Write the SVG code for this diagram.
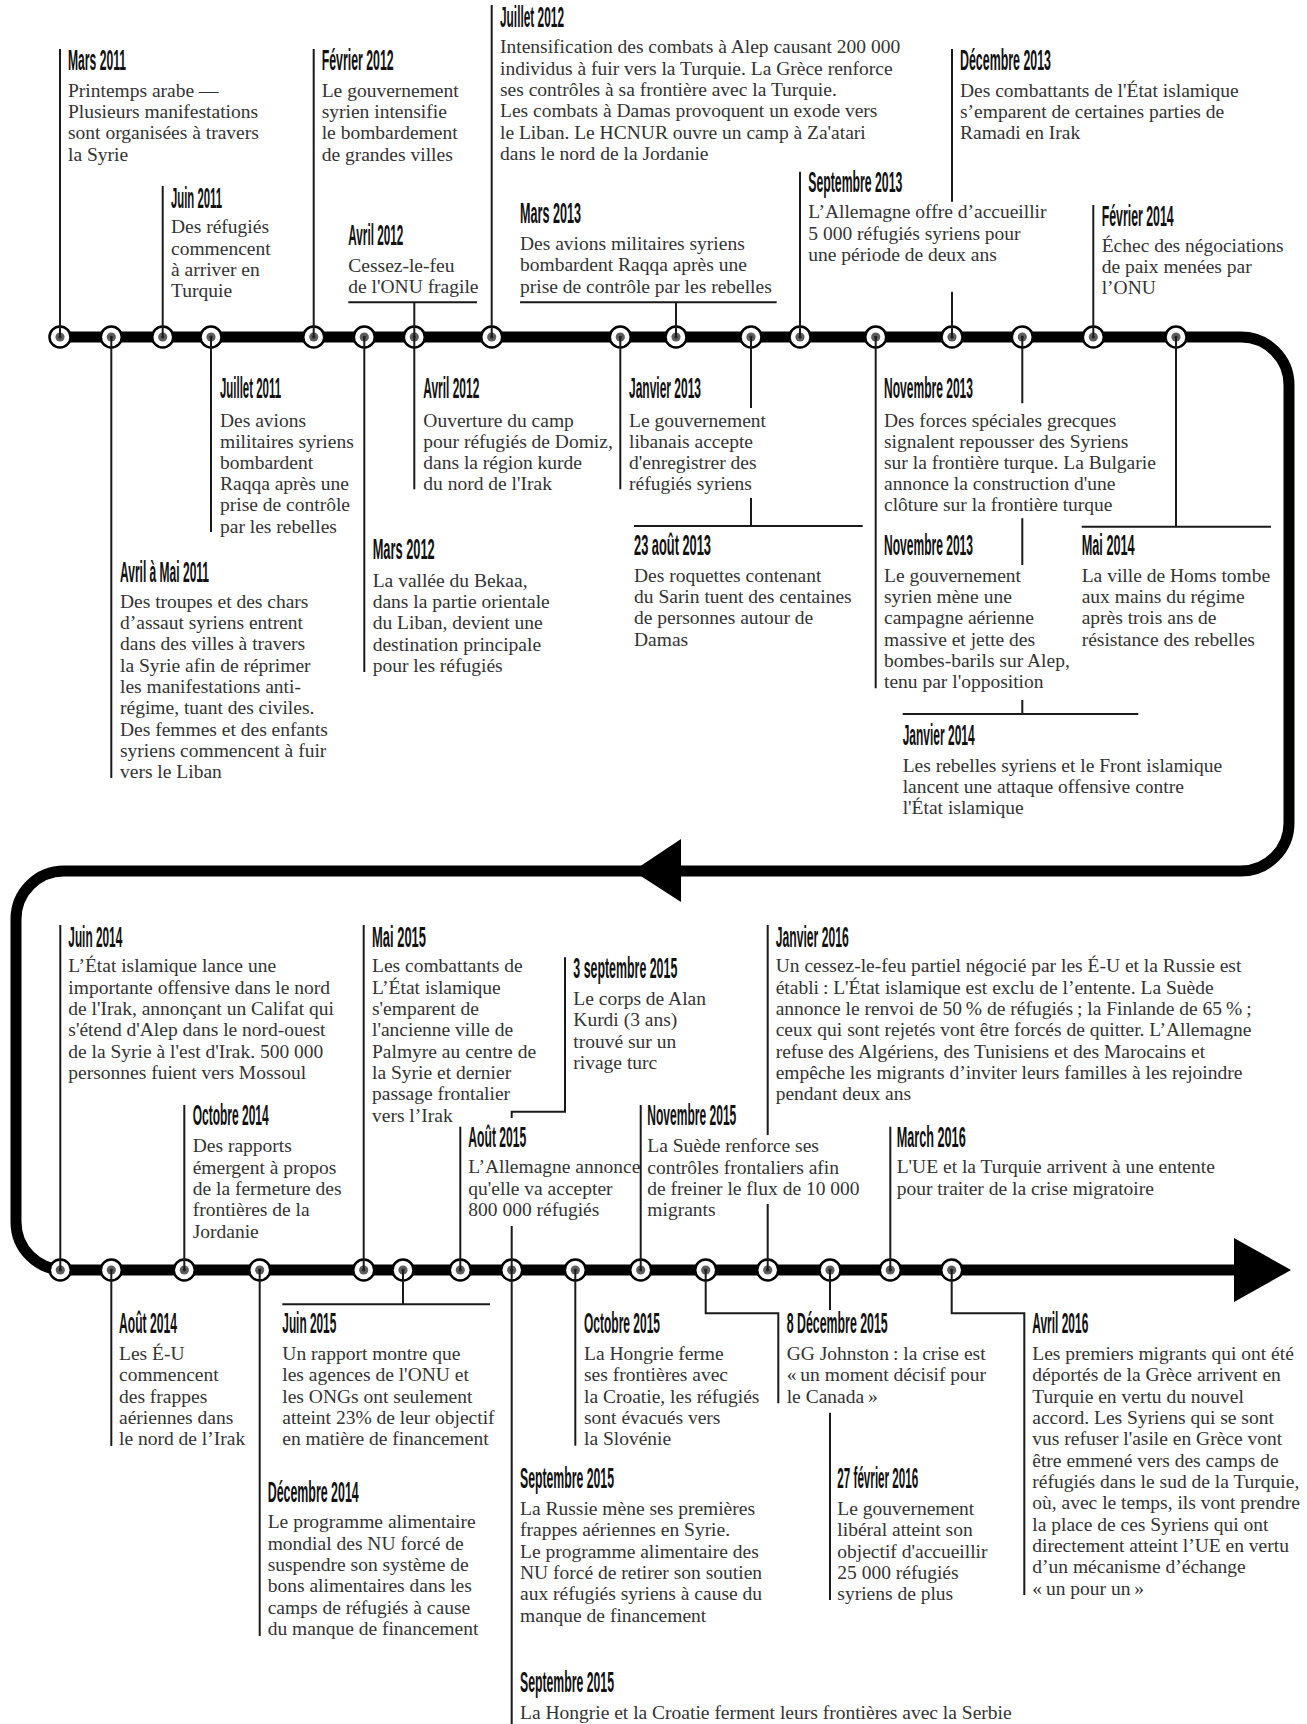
<svg xmlns="http://www.w3.org/2000/svg" xmlns:xlink="http://www.w3.org/1999/xlink" width="1307" height="1724" viewBox="0 0 1307 1724">
<style>
.h{font-family:"Liberation Sans Narrow","Liberation Sans",Arial,sans-serif;font-weight:bold;font-size:29px;fill:#111}
.b{font-family:"Liberation Serif","Times New Roman",serif;font-size:19.5px;fill:#333}
.c{fill:none;stroke:#1a1a1a;stroke-width:2}
.track{fill:none;stroke:#000;stroke-width:11;stroke-linejoin:round}
</style>
<defs>
<g id="mk"><circle r="10.5" fill="#fff" stroke="#000" stroke-width="2.5"/><circle r="4.6" fill="#5e5e5e"/><circle r="1.6" fill="#222"/></g>
</defs>
<rect width="1307" height="1724" fill="#fff"/>
<g id="track">
<path class="track" d="M60,337 H1241 A48,48 0 0 1 1289,385 V823 A48,48 0 0 1 1241,871 H64 A48,48 0 0 0 16,919 V1222 A48,48 0 0 0 64,1270 H1240"/>
<polygon points="633,871 681,839 681,902" fill="#000"/>
<polygon points="1291,1270 1234,1238 1234,1302" fill="#000"/>
</g>

<g id="e-mars-2011"><use href="#mk" x="60" y="337"/><text class="h" x="68" y="70" textLength="58" lengthAdjust="spacingAndGlyphs">Mars 2011</text><text class="b" y="96.7"><tspan x="68">Printemps arabe —</tspan><tspan x="68" dy="21.33">Plusieurs manifestations</tspan><tspan x="68" dy="21.33">sont organisées à travers</tspan><tspan x="68" dy="21.33">la Syrie</tspan></text></g>

<g id="e-juin-2011"><use href="#mk" x="162.7" y="337"/><text class="h" x="171" y="207.7" textLength="51" lengthAdjust="spacingAndGlyphs">Juin 2011</text><text class="b" y="233.3"><tspan x="171">Des réfugiés</tspan><tspan x="171" dy="21.33">commencent</tspan><tspan x="171" dy="21.33">à arriver en</tspan><tspan x="171" dy="21.33">Turquie</tspan></text></g>

<g id="e-fevrier-2012"><use href="#mk" x="313.7" y="337"/><text class="h" x="321.7" y="70" textLength="72" lengthAdjust="spacingAndGlyphs">Février 2012</text><text class="b" y="96.7"><tspan x="321.7">Le gouvernement</tspan><tspan x="321.7" dy="21.33">syrien intensifie</tspan><tspan x="321.7" dy="21.33">le bombardement</tspan><tspan x="321.7" dy="21.33">de grandes villes</tspan></text></g>

<g id="e-avril-2012-a"><use href="#mk" x="414.3" y="337"/><text class="h" x="348.3" y="245" textLength="55" lengthAdjust="spacingAndGlyphs">Avril 2012</text><text class="b" y="271.7"><tspan x="348.3">Cessez-le-feu</tspan><tspan x="348.3" dy="21.33">de l'ONU fragile</tspan></text></g>

<g id="e-juillet-2012"><use href="#mk" x="491.7" y="337"/><text class="h" x="500" y="26.7" textLength="64" lengthAdjust="spacingAndGlyphs">Juillet 2012</text><text class="b" y="53.3"><tspan x="500">Intensification des combats à Alep causant 200 000</tspan><tspan x="500" dy="21.33">individus à fuir vers la Turquie. La Grèce renforce</tspan><tspan x="500" dy="21.33">ses contrôles à sa frontière avec la Turquie.</tspan><tspan x="500" dy="21.33">Les combats à Damas provoquent un exode vers</tspan><tspan x="500" dy="21.33">le Liban. Le HCNUR ouvre un camp à Za'atari</tspan><tspan x="500" dy="21.33">dans le nord de la Jordanie</tspan></text></g>

<g id="e-mars-2013"><use href="#mk" x="676" y="337"/><text class="h" x="520" y="222.7" textLength="61" lengthAdjust="spacingAndGlyphs">Mars 2013</text><text class="b" y="250"><tspan x="520">Des avions militaires syriens</tspan><tspan x="520" dy="21.33">bombardent Raqqa après une</tspan><tspan x="520" dy="21.33">prise de contrôle par les rebelles</tspan></text></g>

<g id="e-septembre-2013"><use href="#mk" x="800" y="337"/><text class="h" x="808.3" y="191.7" textLength="94" lengthAdjust="spacingAndGlyphs">Septembre 2013</text><text class="b" y="218.3"><tspan x="808.3">L’Allemagne offre d’accueillir</tspan><tspan x="808.3" dy="21.33">5 000 réfugiés syriens pour</tspan><tspan x="808.3" dy="21.33">une période de deux ans</tspan></text></g>

<g id="e-decembre-2013"><use href="#mk" x="952" y="337"/><text class="h" x="960" y="70" textLength="91" lengthAdjust="spacingAndGlyphs">Décembre 2013</text><text class="b" y="96.7"><tspan x="960">Des combattants de l'État islamique</tspan><tspan x="960" dy="21.33">s’emparent de certaines parties de</tspan><tspan x="960" dy="21.33">Ramadi en Irak</tspan></text></g>

<g id="e-fevrier-2014"><use href="#mk" x="1093.3" y="337"/><text class="h" x="1101.7" y="226" textLength="72" lengthAdjust="spacingAndGlyphs">Février 2014</text><text class="b" y="251.7"><tspan x="1101.7">Échec des négociations</tspan><tspan x="1101.7" dy="21.33">de paix menées par</tspan><tspan x="1101.7" dy="21.33">l’ONU</tspan></text></g>

<g id="e-avril-mai-2011"><use href="#mk" x="111.3" y="337"/><text class="h" x="120" y="581.7" textLength="89" lengthAdjust="spacingAndGlyphs">Avril à Mai 2011</text><text class="b" y="607.7"><tspan x="120">Des troupes et des chars</tspan><tspan x="120" dy="21.33">d’assaut syriens entrent</tspan><tspan x="120" dy="21.33">dans des villes à travers</tspan><tspan x="120" dy="21.33">la Syrie afin de réprimer</tspan><tspan x="120" dy="21.33">les manifestations anti-</tspan><tspan x="120" dy="21.33">régime, tuant des civiles.</tspan><tspan x="120" dy="21.33">Des femmes et des enfants</tspan><tspan x="120" dy="21.33">syriens commencent à fuir</tspan><tspan x="120" dy="21.33">vers le Liban</tspan></text></g>

<g id="e-juillet-2011"><use href="#mk" x="211" y="337"/><text class="h" x="220" y="398.3" textLength="61" lengthAdjust="spacingAndGlyphs">Juillet 2011</text><text class="b" y="426.5"><tspan x="220">Des avions</tspan><tspan x="220" dy="21.2">militaires syriens</tspan><tspan x="220" dy="21.2">bombardent</tspan><tspan x="220" dy="21.2">Raqqa après une</tspan><tspan x="220" dy="21.2">prise de contrôle</tspan><tspan x="220" dy="21.2">par les rebelles</tspan></text></g>

<g id="e-mars-2012"><use href="#mk" x="364.3" y="337"/><text class="h" x="372.7" y="559.3" textLength="62" lengthAdjust="spacingAndGlyphs">Mars 2012</text><text class="b" y="586.7"><tspan x="372.7">La vallée du Bekaa,</tspan><tspan x="372.7" dy="21.33">dans la partie orientale</tspan><tspan x="372.7" dy="21.33">du Liban, devient une</tspan><tspan x="372.7" dy="21.33">destination principale</tspan><tspan x="372.7" dy="21.33">pour les réfugiés</tspan></text></g>

<g id="e-avril-2012-b"><text class="h" x="423.3" y="398.3" textLength="56" lengthAdjust="spacingAndGlyphs">Avril 2012</text><text class="b" y="426.5"><tspan x="423.3">Ouverture du camp</tspan><tspan x="423.3" dy="21.2">pour réfugiés de Domiz,</tspan><tspan x="423.3" dy="21.2">dans la région kurde</tspan><tspan x="423.3" dy="21.2">du nord de l'Irak</tspan></text></g>

<g id="e-janvier-2013"><use href="#mk" x="620.3" y="337"/><text class="h" x="629" y="398.3" textLength="72" lengthAdjust="spacingAndGlyphs">Janvier 2013</text><text class="b" y="426.5"><tspan x="629">Le gouvernement</tspan><tspan x="629" dy="21.2">libanais accepte</tspan><tspan x="629" dy="21.2">d'enregistrer des</tspan><tspan x="629" dy="21.2">réfugiés syriens</tspan></text></g>

<g id="e-23-aout-2013"><use href="#mk" x="751" y="337"/><text class="h" x="634" y="555" textLength="77" lengthAdjust="spacingAndGlyphs">23 août 2013</text><text class="b" y="581.7"><tspan x="634">Des roquettes contenant</tspan><tspan x="634" dy="21.33">du Sarin tuent des centaines</tspan><tspan x="634" dy="21.33">de personnes autour de</tspan><tspan x="634" dy="21.33">Damas</tspan></text></g>

<g id="e-novembre-2013-a"><use href="#mk" x="875.7" y="337"/><text class="h" x="884" y="398.3" textLength="89" lengthAdjust="spacingAndGlyphs">Novembre 2013</text><text class="b" y="426.5"><tspan x="884">Des forces spéciales grecques</tspan><tspan x="884" dy="21.2">signalent repousser des Syriens</tspan><tspan x="884" dy="21.2">sur la frontière turque. La Bulgarie</tspan><tspan x="884" dy="21.2">annonce la construction d'une</tspan><tspan x="884" dy="21.2">clôture sur la frontière turque</tspan></text></g>

<g id="e-novembre-2013-b"><text class="h" x="884" y="555" textLength="89" lengthAdjust="spacingAndGlyphs">Novembre 2013</text><text class="b" y="581.7"><tspan x="884">Le gouvernement</tspan><tspan x="884" dy="21.33">syrien mène une</tspan><tspan x="884" dy="21.33">campagne aérienne</tspan><tspan x="884" dy="21.33">massive et jette des</tspan><tspan x="884" dy="21.33">bombes-barils sur Alep,</tspan><tspan x="884" dy="21.33">tenu par l'opposition</tspan></text></g>

<g id="e-janvier-2014"><use href="#mk" x="1022.3" y="337"/><text class="h" x="902.7" y="745" textLength="72" lengthAdjust="spacingAndGlyphs">Janvier 2014</text><text class="b" y="771.7"><tspan x="902.7">Les rebelles syriens et le Front islamique</tspan><tspan x="902.7" dy="21.33">lancent une attaque offensive contre</tspan><tspan x="902.7" dy="21.33">l'État islamique</tspan></text></g>

<g id="e-mai-2014"><use href="#mk" x="1176" y="337"/><text class="h" x="1081.7" y="555" textLength="53" lengthAdjust="spacingAndGlyphs">Mai 2014</text><text class="b" y="581.7"><tspan x="1081.7">La ville de Homs tombe</tspan><tspan x="1081.7" dy="21.33">aux mains du régime</tspan><tspan x="1081.7" dy="21.33">après trois ans de</tspan><tspan x="1081.7" dy="21.33">résistance des rebelles</tspan></text></g>

<g id="e-juin-2014"><use href="#mk" x="60.3" y="1270"/><text class="h" x="68.3" y="946.7" textLength="54" lengthAdjust="spacingAndGlyphs">Juin 2014</text><text class="b" y="972.3"><tspan x="68.3">L’État islamique lance une</tspan><tspan x="68.3" dy="21.33">importante offensive dans le nord</tspan><tspan x="68.3" dy="21.33">de l'Irak, annonçant un Califat qui</tspan><tspan x="68.3" dy="21.33">s'étend d'Alep dans le nord-ouest</tspan><tspan x="68.3" dy="21.33">de la Syrie à l'est d'Irak. 500 000</tspan><tspan x="68.3" dy="21.33">personnes fuient vers Mossoul</tspan></text></g>

<g id="e-octobre-2014"><use href="#mk" x="184.3" y="1270"/><text class="h" x="192.7" y="1125" textLength="76" lengthAdjust="spacingAndGlyphs">Octobre 2014</text><text class="b" y="1152.3"><tspan x="192.7">Des rapports</tspan><tspan x="192.7" dy="21.33">émergent à propos</tspan><tspan x="192.7" dy="21.33">de la fermeture des</tspan><tspan x="192.7" dy="21.33">frontières de la</tspan><tspan x="192.7" dy="21.33">Jordanie</tspan></text></g>

<g id="e-mai-2015"><use href="#mk" x="363.7" y="1270"/><text class="h" x="372" y="946.7" textLength="54" lengthAdjust="spacingAndGlyphs">Mai 2015</text><text class="b" y="972.3"><tspan x="372">Les combattants de</tspan><tspan x="372" dy="21.33">L’État islamique</tspan><tspan x="372" dy="21.33">s'emparent de</tspan><tspan x="372" dy="21.33">l'ancienne ville de</tspan><tspan x="372" dy="21.33">Palmyre au centre de</tspan><tspan x="372" dy="21.33">la Syrie et dernier</tspan><tspan x="372" dy="21.33">passage frontalier</tspan><tspan x="372" dy="21.33">vers l’Irak</tspan></text></g>

<g id="e-aout-2015"><use href="#mk" x="460.3" y="1270"/><text class="h" x="468.3" y="1146.7" textLength="58" lengthAdjust="spacingAndGlyphs">Août 2015</text><text class="b" y="1173.3"><tspan x="468.3">L’Allemagne annonce</tspan><tspan x="468.3" dy="21.33">qu'elle va accepter</tspan><tspan x="468.3" dy="21.33">800 000 réfugiés</tspan></text></g>

<g id="e-3-septembre-2015"><use href="#mk" x="511.7" y="1270"/><text class="h" x="573.3" y="978.3" textLength="104" lengthAdjust="spacingAndGlyphs">3 septembre 2015</text><text class="b" y="1005"><tspan x="573.3">Le corps de Alan</tspan><tspan x="573.3" dy="21.33">Kurdi (3 ans)</tspan><tspan x="573.3" dy="21.33">trouvé sur un</tspan><tspan x="573.3" dy="21.33">rivage turc</tspan></text></g>

<g id="e-novembre-2015"><use href="#mk" x="640.7" y="1270"/><text class="h" x="647.3" y="1125" textLength="89" lengthAdjust="spacingAndGlyphs">Novembre 2015</text><text class="b" y="1152.3"><tspan x="647.3">La Suède renforce ses</tspan><tspan x="647.3" dy="21.33">contrôles frontaliers afin</tspan><tspan x="647.3" dy="21.33">de freiner le flux de 10 000</tspan><tspan x="647.3" dy="21.33">migrants</tspan></text></g>

<g id="e-janvier-2016"><use href="#mk" x="767.7" y="1270"/><text class="h" x="775.7" y="946.7" textLength="73" lengthAdjust="spacingAndGlyphs">Janvier 2016</text><text class="b" y="972.3"><tspan x="775.7">Un cessez-le-feu partiel négocié par les É-U et la Russie est</tspan><tspan x="775.7" dy="21.33">établi&#8201;: L'État islamique est exclu de l’entente. La Suède</tspan><tspan x="775.7" dy="21.33">annonce le renvoi de 50&#8201;% de réfugiés&#8201;; la Finlande de 65&#8201;%&#8201;;</tspan><tspan x="775.7" dy="21.33">ceux qui sont rejetés vont être forcés de quitter. L’Allemagne</tspan><tspan x="775.7" dy="21.33">refuse des Algériens, des Tunisiens et des Marocains et</tspan><tspan x="775.7" dy="21.33">empêche les migrants d’inviter leurs familles à les rejoindre</tspan><tspan x="775.7" dy="21.33">pendant deux ans</tspan></text></g>

<g id="e-march-2016"><use href="#mk" x="890.3" y="1270"/><text class="h" x="896.7" y="1146.7" textLength="69" lengthAdjust="spacingAndGlyphs">March 2016</text><text class="b" y="1173.3"><tspan x="896.7">L'UE et la Turquie arrivent à une entente</tspan><tspan x="896.7" dy="21.33">pour traiter de la crise migratoire</tspan></text></g>

<g id="e-aout-2014"><use href="#mk" x="111.3" y="1270"/><text class="h" x="119" y="1333.3" textLength="58" lengthAdjust="spacingAndGlyphs">Août 2014</text><text class="b" y="1360"><tspan x="119">Les É-U</tspan><tspan x="119" dy="21.33">commencent</tspan><tspan x="119" dy="21.33">des frappes</tspan><tspan x="119" dy="21.33">aériennes dans</tspan><tspan x="119" dy="21.33">le nord de l’Irak</tspan></text></g>

<g id="e-decembre-2014"><use href="#mk" x="259.7" y="1270"/><text class="h" x="267.7" y="1501.7" textLength="91" lengthAdjust="spacingAndGlyphs">Décembre 2014</text><text class="b" y="1528.3"><tspan x="267.7">Le programme alimentaire</tspan><tspan x="267.7" dy="21.33">mondial des NU forcé de</tspan><tspan x="267.7" dy="21.33">suspendre son système de</tspan><tspan x="267.7" dy="21.33">bons alimentaires dans les</tspan><tspan x="267.7" dy="21.33">camps de réfugiés à cause</tspan><tspan x="267.7" dy="21.33">du manque de financement</tspan></text></g>

<g id="e-juin-2015"><use href="#mk" x="403" y="1270"/><text class="h" x="282.3" y="1333.3" textLength="54" lengthAdjust="spacingAndGlyphs">Juin 2015</text><text class="b" y="1360"><tspan x="282.3">Un rapport montre que</tspan><tspan x="282.3" dy="21.33">les agences de l'ONU et</tspan><tspan x="282.3" dy="21.33">les ONGs ont seulement</tspan><tspan x="282.3" dy="21.33">atteint 23% de leur objectif</tspan><tspan x="282.3" dy="21.33">en matière de financement</tspan></text></g>

<g id="e-septembre-2015-a"><text class="h" x="520" y="1488.3" textLength="94" lengthAdjust="spacingAndGlyphs">Septembre 2015</text><text class="b" y="1515"><tspan x="520">La Russie mène ses premières</tspan><tspan x="520" dy="21.33">frappes aériennes en Syrie.</tspan><tspan x="520" dy="21.33">Le programme alimentaire des</tspan><tspan x="520" dy="21.33">NU forcé de retirer son soutien</tspan><tspan x="520" dy="21.33">aux réfugiés syriens à cause du</tspan><tspan x="520" dy="21.33">manque de financement</tspan></text></g>

<g id="e-septembre-2015-b"><text class="h" x="520" y="1691.7" textLength="94" lengthAdjust="spacingAndGlyphs">Septembre 2015</text><text class="b" x="520" y="1719">La Hongrie et la Croatie ferment leurs frontières avec la Serbie</text></g>

<g id="e-octobre-2015"><use href="#mk" x="575.3" y="1270"/><text class="h" x="584" y="1333.3" textLength="76" lengthAdjust="spacingAndGlyphs">Octobre 2015</text><text class="b" y="1360"><tspan x="584">La Hongrie ferme</tspan><tspan x="584" dy="21.33">ses frontières avec</tspan><tspan x="584" dy="21.33">la Croatie, les réfugiés</tspan><tspan x="584" dy="21.33">sont évacués vers</tspan><tspan x="584" dy="21.33">la Slovénie</tspan></text></g>

<g id="e-8-decembre-2015"><use href="#mk" x="705.7" y="1270"/><text class="h" x="786.7" y="1333.3" textLength="101" lengthAdjust="spacingAndGlyphs">8 Décembre 2015</text><text class="b" y="1360"><tspan x="786.7">GG Johnston&#8201;: la crise est</tspan><tspan x="786.7" dy="21.33">«&#8201;un moment décisif pour</tspan><tspan x="786.7" dy="21.33">le Canada&#8201;»</tspan></text></g>

<g id="e-27-fevrier-2016"><use href="#mk" x="830" y="1270"/><text class="h" x="837.3" y="1488.3" textLength="81" lengthAdjust="spacingAndGlyphs">27 février 2016</text><text class="b" y="1515"><tspan x="837.3">Le gouvernement</tspan><tspan x="837.3" dy="21.33">libéral atteint son</tspan><tspan x="837.3" dy="21.33">objectif d'accueillir</tspan><tspan x="837.3" dy="21.33">25 000 réfugiés</tspan><tspan x="837.3" dy="21.33">syriens de plus</tspan></text></g>

<g id="e-avril-2016"><use href="#mk" x="951.7" y="1270"/><text class="h" x="1032.3" y="1333.3" textLength="56" lengthAdjust="spacingAndGlyphs">Avril 2016</text><text class="b" y="1360"><tspan x="1032.3">Les premiers migrants qui ont été</tspan><tspan x="1032.3" dy="21.33">déportés de la Grèce arrivent en</tspan><tspan x="1032.3" dy="21.33">Turquie en vertu du nouvel</tspan><tspan x="1032.3" dy="21.33">accord. Les Syriens qui se sont</tspan><tspan x="1032.3" dy="21.33">vus refuser l'asile en Grèce vont</tspan><tspan x="1032.3" dy="21.33">être emmené vers des camps de</tspan><tspan x="1032.3" dy="21.33">réfugiés dans le sud de la Turquie,</tspan><tspan x="1032.3" dy="21.33">où, avec le temps, ils vont prendre</tspan><tspan x="1032.3" dy="21.33">la place de ces Syriens qui ont</tspan><tspan x="1032.3" dy="21.33">directement atteint l’UE en vertu</tspan><tspan x="1032.3" dy="21.33">d’un mécanisme d’échange</tspan><tspan x="1032.3" dy="21.33">«&#8201;un pour un&#8201;»</tspan></text></g>

<g id="connectors">
<path class="c" d="M60,49 V337"/>
<path class="c" d="M162.7,186 V337"/>
<path class="c" d="M313.7,49 V337"/>
<path class="c" d="M348.3,302.3 H477 M414.3,302.3 V337"/>
<path class="c" d="M491.7,5 V337"/>
<path class="c" d="M520,302.3 H776.7 M676,302.3 V337"/>
<path class="c" d="M800,171.7 V337"/>
<path class="c" d="M952,49 V201.7 M952,291.7 V337"/>
<path class="c" d="M1093.3,205 V337"/>
<path class="c" d="M111.3,337 V778"/>
<path class="c" d="M211,337 V532"/>
<path class="c" d="M364.3,337 V672"/>
<path class="c" d="M414.3,337 V489.3"/>
<path class="c" d="M620.3,337 V489.3"/>
<path class="c" d="M751,337 V408 M751,498 V526 M634,526 H862.7"/>
<path class="c" d="M875.7,337 V688.3"/>
<path class="c" d="M1022.3,337 V403.3 M1022.3,518.3 V565 M1022.3,700 V714 M902.7,714 H1138.3"/>
<path class="c" d="M1176,337 V526.7 M1081.7,526.7 H1271"/>
<path class="c" d="M60.3,925 V1270"/>
<path class="c" d="M184.3,1105 V1270"/>
<path class="c" d="M363.7,925 V1270"/>
<path class="c" d="M460.3,1126.7 V1270"/>
<path class="c" d="M511.7,1226 V1270 M511.7,1118 V1111.7 H565 V957.3"/>
<path class="c" d="M640.7,1105 V1270"/>
<path class="c" d="M767.7,925 V1135 M767.7,1204 V1270"/>
<path class="c" d="M890.3,1126.7 V1270"/>
<path class="c" d="M111.3,1270 V1446"/>
<path class="c" d="M259.7,1270 V1636"/>
<path class="c" d="M403,1270 V1304.3 M282.3,1304.3 H490"/>
<path class="c" d="M511.7,1270 V1724"/>
<path class="c" d="M575.3,1270 V1445.7"/>
<path class="c" d="M705.7,1270 V1313.3 H778.3 V1403.3"/>
<path class="c" d="M830,1270 V1310 M830,1412.7 V1600"/>
<path class="c" d="M951.7,1270 V1313.3 H1024.3 V1595"/>
</g>
</svg>
